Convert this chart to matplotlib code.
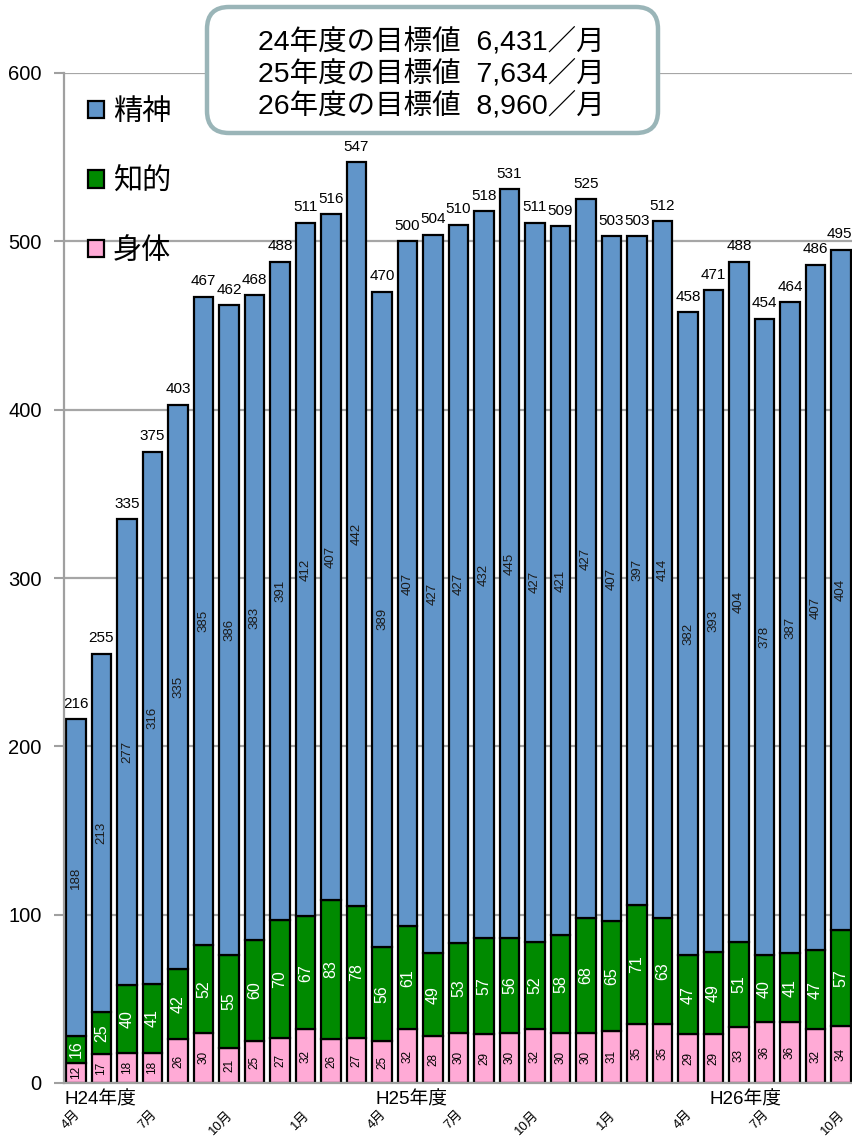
import matplotlib
matplotlib.use("Agg")
import matplotlib.pyplot as plt
import numpy as np
from matplotlib.patches import FancyBboxPatch
from matplotlib.transforms import IdentityTransform, blended_transform_factory

plt.rcParams['font.family'] = ['Liberation Sans', 'Noto Sans CJK JP', 'DejaVu Sans']

# Monthly counts, H24 April through H26 October
physical = [12, 17, 18, 18, 26, 30, 21, 25, 27, 32, 26, 27,
            25, 32, 28, 30, 29, 30, 32, 30, 30, 31, 35, 35,
            29, 29, 33, 36, 36, 32, 34]
intellectual = [16, 25, 40, 41, 42, 52, 55, 60, 70, 67, 83, 78,
                56, 61, 49, 53, 57, 56, 52, 58, 68, 65, 71, 63,
                47, 49, 51, 40, 41, 47, 57]
mental = [188, 213, 277, 316, 335, 385, 386, 383, 391, 412, 407, 442,
          389, 407, 427, 427, 432, 445, 427, 421, 427, 407, 397, 414,
          382, 393, 404, 378, 387, 407, 404]
months = ['4月', '7月', '10月', '1月', '4月', '7月', '10月', '1月', '4月', '7月', '10月']
month_positions = [0, 3, 6, 9, 12, 15, 18, 21, 24, 27, 30]
fiscal_years = ['H24年度', 'H25年度', 'H26年度']
fiscal_year_x = [-0.45, 11.75, 24.85]
targets = ['24年度の目標値  6,431／月',
           '25年度の目標値  7,634／月',
           '26年度の目標値  8,960／月']
series_names = ['精神', '知的', '身体']

c_mental = '#6195c9'
c_intel = '#008a00'
c_phys = '#ffaad6'

W, H = 853, 1139
fig = plt.figure(figsize=(W / 100, H / 100), dpi=100)
ax = fig.add_axes([64 / W, 1 - 1083 / H, (W - 64) / W, (1083 - 73) / H])

x = np.arange(len(mental))
phys = np.array(physical)
intel = np.array(intellectual)
ment = np.array(mental)
total = phys + intel + ment

bw = 0.76
ekw = dict(edgecolor='black', linewidth=1.6, width=bw, zorder=3)
b_phys = ax.bar(x, phys, color=c_phys, **ekw)
b_intel = ax.bar(x, intel, bottom=phys, color=c_intel, **ekw)
b_ment = ax.bar(x, ment, bottom=phys + intel, color=c_mental, **ekw)

# segment labels
for i in range(len(x)):
    ax.text(x[i], phys[i] / 2, str(phys[i]), rotation=90, ha='center', va='center',
            fontsize=8.5, color='black', zorder=4)
    ax.text(x[i], phys[i] + intel[i] / 2, str(intel[i]), rotation=90, ha='center',
            va='center', fontsize=11.5, color='white', zorder=4)
    ax.text(x[i], phys[i] + intel[i] + ment[i] / 2, str(ment[i]), rotation=90,
            ha='center', va='center', fontsize=9.5, color='#1a1a1a', zorder=4)
    ax.text(x[i] - (0.08 if i == len(x) - 1 else 0), total[i] + 5, str(total[i]),
            ha='center', va='bottom', fontsize=11, color='black', zorder=4)

ax.set_xlim(-0.47, 30.47)
ax.set_ylim(0, 600)
ax.set_yticks(range(0, 601, 100))
ax.tick_params(axis='y', length=7, width=1.5, color='#a0a0a0', pad=9, labelsize=14.5)
ax.set_xticks([])
ax.grid(axis='y', color='#a6a6a6', linewidth=1.6)
ax.set_axisbelow(True)
for s in ['top', 'right']:
    ax.spines[s].set_visible(False)
for s in ['left', 'bottom']:
    ax.spines[s].set_color('#a0a0a0')
    ax.spines[s].set_linewidth(1.6)
    ax.spines[s].set_zorder(5)

# axis labels below the bars
tr = blended_transform_factory(ax.transData, ax.transAxes)
for xp, lab in zip(fiscal_year_x, fiscal_years):
    ax.text(xp, -0.0165, lab, transform=tr, ha='left', va='center', fontsize=13.5)
for xp, lab in zip(month_positions, months):
    ax.text(xp + 0.25, -0.0255, lab, transform=tr, ha='right', va='top',
            rotation=45, fontsize=9.5)

# legend
leg = ax.legend([b_ment, b_intel, b_phys], series_names, loc='upper left',
                bbox_to_anchor=(88 / W, 1 - 98 / H), bbox_transform=fig.transFigure,
                frameon=False, fontsize=21, handlelength=0.55, handleheight=0.55,
                handletextpad=0.3, labelspacing=1.42, borderpad=0, borderaxespad=0)

# target box
box = FancyBboxPatch((207, H - 133), 451, 126,
                     boxstyle='round,pad=0,rounding_size=22',
                     transform=IdentityTransform(), facecolor='white',
                     edgecolor='#9ab5b8', linewidth=3.2, zorder=10)
fig.patches.append(box)
for k, t in enumerate(targets):
    fig.text(431 / W, 1 - (42 + 32 * k) / H, t, ha='center', va='center',
             fontsize=20.5, zorder=11)

fig.savefig('out.png', dpi=100)
